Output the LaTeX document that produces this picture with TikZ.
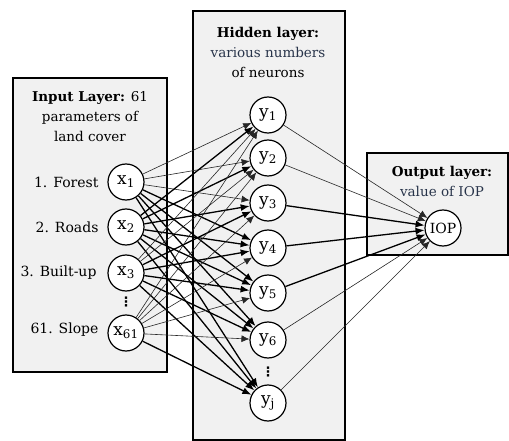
\documentclass[tikz,border=0pt]{standalone}
\usepackage{fontspec}
\setmainfont{DejaVu Serif}
\newfontfamily\symfont{DejaVu Sans}
\usetikzlibrary{arrows.meta}

\definecolor{boxgray}{RGB}{241,241,241}
\definecolor{subtext}{RGB}{40,52,74}

\tikzset{
    layerbox/.style={draw=black, line width=2pt, fill=boxgray},
    neuron/.style={circle, draw=black, line width=1.2pt, fill=white, minimum size=36pt, inner sep=0pt, font=\fontsize{17}{17}\selectfont},
    title/.style={align=center, font=\fontsize{13.5}{20}\selectfont},
    label/.style={anchor=east, font=\fontsize{14}{16}\selectfont},
    vdotsnode/.style={inner sep=0pt, font=\symfont\bfseries\fontsize{13}{13}\selectfont},
    thinedge/.style={line width=0.6pt, draw=black!85, -{Latex[length=8pt,width=7pt]}},
    thickedge/.style={line width=1.3pt, -{Latex[length=9pt,width=7pt]}},
}

\begin{document}
\begin{tikzpicture}[x=1pt, y=-1pt]
    \useasboundingbox (0,0) rectangle (509,441);

    % layer boxes
    \draw[layerbox] (13,78) rectangle (167,372);
    \draw[layerbox] (193,11) rectangle (345,440);
    \draw[layerbox] (367,153) rectangle (508,255);

    % titles
    \node[title] (intitle) at (90,117) {\textbf{Input Layer:} 61\\parameters of\\land cover};
    \node[title] (hidtitle) at (268,52) {\textbf{Hidden layer:}\\\textcolor{subtext}{various numbers}\\of neurons};
    \node[title] (outtitle) at (442,181) {\textbf{Output layer:}\\\textcolor{subtext}{value of IOP}};

    % input neurons
    \node[neuron] (x1) at (126,182) {x\textsubscript{1}};
    \node[neuron] (x2) at (126,227) {x\textsubscript{2}};
    \node[neuron] (x3) at (126,273) {x\textsubscript{3}};
    \node[neuron] (x61) at (126,333) {x\textsubscript{61}};
    \node[vdotsnode] (xdots) at (126,302) {⋮};

    \node[label] (lab1) at (102,182) {1. Forest};
    \node[label] (lab2) at (102,227) {2. Roads};
    \node[label] (lab3) at (100,273) {3. Built-up};
    \node[label] (lab61) at (102,330) {61. Slope};

    % hidden neurons
    \foreach \name/\ypos/\sub in {y1/115/1, y2/158/2, y3/203/3, y4/248/4, y5/293/5, y6/340/6, yj/403/j}
        \node[neuron] (\name) at (268,\ypos) {y\textsubscript{\sub}};
    \node[vdotsnode] (ydots) at (268,372) {⋮};

    % output neuron
    \node[neuron, font=\fontsize{14}{14}\selectfont] (iop) at (443,228) {IOP};

    % input -> hidden
    \foreach \t in {y1,y2,y3}
        \draw[thinedge] (x1) -- (\t);
    \foreach \t in {y4,y5,y6,yj}
        \draw[thickedge] (x1) -- (\t);
    \foreach \t in {y1,y2,y3,y4,y5,y6,yj}
        \draw[thickedge] (x2) -- (\t);
    \foreach \t in {y1,y2}
        \draw[thinedge] (x3) -- (\t);
    \foreach \t in {y3,y4,y5,y6,yj}
        \draw[thickedge] (x3) -- (\t);
    \foreach \t in {y1,y2,y3,y4,y5,y6}
        \draw[thinedge] (x61) -- (\t);
    \draw[thickedge] (x61) -- (yj);

    % hidden -> output
    \foreach \s in {y1,y2,y6,yj}
        \draw[thinedge] (\s) -- (iop);
    \foreach \s in {y3,y4,y5}
        \draw[thickedge] (\s) -- (iop);
\end{tikzpicture}
\end{document}
